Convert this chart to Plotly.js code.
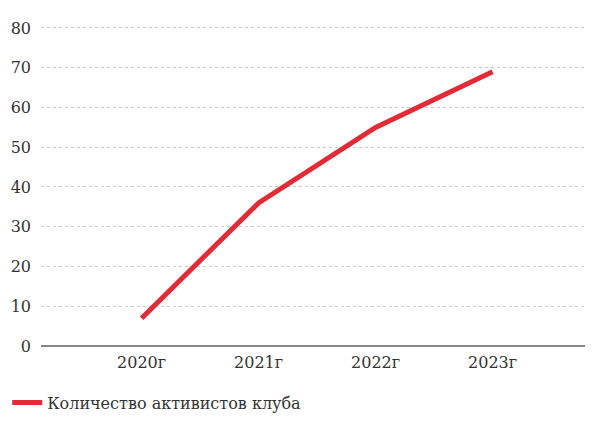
<!DOCTYPE html>
<html>
<head>
<meta charset="utf-8">
<script src="https://cdn.plot.ly/plotly-3.0.1.min.js"></script>
<style>html,body{margin:0;padding:0;background:#fff;}#chart{width:600px;height:423px;}</style>
</head>
<body>
<div id="chart"></div>
<script>
const categories = ["2020г", "2021г", "2022г", "2023г"];
const activists = [7, 36, 55, 69];
const seriesName = "Количество активистов клуба";
const yTicks = [0, 10, 20, 30, 40, 50, 60, 70, 80];

const trace = {
  x: categories,
  y: activists,
  type: 'scatter',
  mode: 'lines',
  name: seriesName,
  line: {color: '#e32b36', width: 5}
};

const serif = 'DejaVu Serif';

const layout = {
  width: 600, height: 423,
  margin: {l: 41, r: 15, t: 26, b: 77},
  paper_bgcolor: '#fff', plot_bgcolor: '#fff',
  font: {family: serif, size: 16, color: '#333'},
  showlegend: true,
  legend: {orientation: 'h', xref: 'container', yref: 'container', x: 0.012, y: 0.048,
           xanchor: 'left', yanchor: 'middle', bgcolor: 'rgba(0,0,0,0)', itemwidth: 30,
           font: {family: serif, size: 16, color: '#333'}},
  xaxis: {
    type: 'category',
    range: [-0.86, 3.79],
    showgrid: false, zeroline: false, showline: false,
    ticks: '', ticklabelstandoff: 5,
    tickfont: {family: serif, size: 16, color: '#333'}
  },
  yaxis: {
    range: [0, 80.5],
    tickvals: yTicks,
    showgrid: true, gridcolor: '#c8c8c8', griddash: 'dot', gridwidth: 1,
    zeroline: true, zerolinecolor: '#888', zerolinewidth: 2,
    showline: false, ticks: '', ticklabelstandoff: 9,
    tickfont: {family: serif, size: 16, color: '#333'}
  }
};

Plotly.newPlot('chart', [trace], layout, {displayModeBar: false, staticPlot: true});
</script>
</body>
</html>
